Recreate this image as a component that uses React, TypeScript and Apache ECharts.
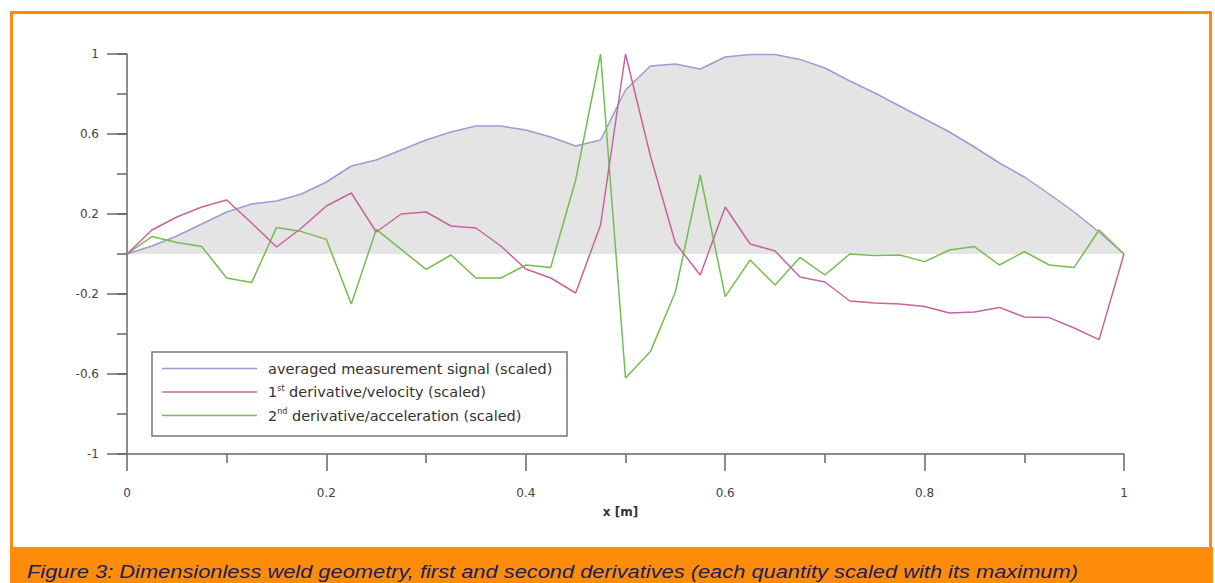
import React, { useEffect, useRef } from 'react';
import * as echarts from 'echarts';

// Data
const xPositions = [
  0, 0.025, 0.05, 0.075, 0.1, 0.125, 0.15, 0.175, 0.2, 0.225,
  0.25, 0.275, 0.3, 0.325, 0.35, 0.375, 0.4, 0.425, 0.45, 0.475,
  0.5, 0.525, 0.55, 0.575, 0.6, 0.625, 0.65, 0.675, 0.7, 0.725,
  0.75, 0.775, 0.8, 0.825, 0.85, 0.875, 0.9, 0.925, 0.95, 0.975, 1.0,
];

const signal = [
  0, 0.04, 0.09, 0.15, 0.21, 0.25, 0.265, 0.3, 0.36, 0.44,
  0.47, 0.52, 0.57, 0.61, 0.64, 0.64, 0.62, 0.585, 0.54, 0.57,
  0.82, 0.94, 0.95, 0.925, 0.985, 0.998, 0.998, 0.973, 0.93, 0.865,
  0.805, 0.74, 0.675, 0.61, 0.535, 0.455, 0.385, 0.3, 0.21, 0.11, 0,
];

const velocity = [
  0, 0.12, 0.185, 0.235, 0.27, 0.155, 0.035, 0.13, 0.24, 0.305,
  0.11, 0.2, 0.21, 0.14, 0.13, 0.04, -0.075, -0.12, -0.195, 0.145,
  1.0, 0.49, 0.055, -0.105, 0.235, 0.05, 0.015, -0.115, -0.14, -0.235,
  -0.245, -0.25, -0.262, -0.295, -0.29, -0.267, -0.315, -0.318, -0.37, -0.428, 0,
];

const acceleration = [
  0, 0.087, 0.057, 0.037, -0.12, -0.143, 0.133, 0.112, 0.073, -0.25,
  0.123, 0.023, -0.077, -0.005, -0.12, -0.12, -0.055, -0.067, 0.37, 1.0,
  -0.62, -0.488, -0.19, 0.395, -0.213, -0.03, -0.155, -0.017, -0.105, 0,
  -0.008, -0.005, -0.038, 0.02, 0.037, -0.055, 0.012, -0.055, -0.067, 0.12, 0,
];

const seriesNames = [
  'averaged measurement signal (scaled)',
  '1st derivative/velocity (scaled)',
  '2nd derivative/acceleration (scaled)',
];

const xAxisName = 'x [m]';
const caption =
  'Figure 3: Dimensionless weld geometry, first and second derivatives (each quantity scaled with its maximum)';

const FONT = '"Liberation Sans", Arial, Helvetica, sans-serif';
const WIDE = '"DejaVu Sans", "Liberation Sans", Arial, sans-serif';
const ORANGE = '#fd8c0b';

function pairs(ys: number[]) {
  return ys.map((y, i) => [xPositions[i], y]);
}

export default function App() {
  const ref = useRef<HTMLDivElement>(null);

  useEffect(() => {
    if (!ref.current) return;
    const chart = echarts.init(ref.current, undefined, { renderer: 'svg' });
    const fmt = (v: number) => String(parseFloat(v.toFixed(2)));

    chart.setOption({
      animation: false,
      backgroundColor: '#ffffff',
      grid: { left: 127, right: 91, top: 54, bottom: 129, containLabel: false },
      xAxis: {
        type: 'value',
        min: 0,
        max: 1,
        interval: 0.2,
        name: xAxisName,
        nameLocation: 'middle',
        nameGap: 52,
        nameTextStyle: {
          fontFamily: WIDE,
          fontSize: 12,
          fontWeight: 'bold',
          color: '#333',
          padding: [0, 10, 0, 0],
        },
        axisLine: { show: true, onZero: false, lineStyle: { color: '#666', width: 1.5 } },
        axisTick: { show: true, length: 17, lineStyle: { color: '#666', width: 1.5 } },
        minorTick: { show: true, splitNumber: 2, length: 9, lineStyle: { color: '#666', width: 1.5 } },
        axisLabel: { margin: 33, fontFamily: WIDE, fontSize: 12, color: '#444', formatter: (v: number) => fmt(v) },
        splitLine: { show: false },
        minorSplitLine: { show: false },
      },
      yAxis: [
        {
          type: 'value',
          min: -1,
          max: 1,
          interval: 0.2,
          position: 'left',
          axisLine: { show: true, onZero: false, lineStyle: { color: '#666', width: 1.5 } },
          axisTick: { show: true, length: 10, lineStyle: { color: '#666', width: 1.5 } },
          axisLabel: { show: false },
          splitLine: { show: false },
        },
        {
          // label/major-tick overlay: shifted by +1 so ticks fall on -1, -0.6, ..., 1
          type: 'value',
          min: 0,
          max: 2,
          interval: 0.4,
          position: 'left',
          offset: 0,
          axisLine: { show: false },
          axisTick: { show: true, length: 20, lineStyle: { color: '#666', width: 1.5 } },
          axisLabel: {
            margin: 28,
            fontFamily: WIDE,
            fontSize: 12,
            color: '#444',
            formatter: (v: number) => fmt(v - 1),
          },
          splitLine: { show: false },
        },
      ],
      legend: {
        orient: 'vertical',
        left: 162,
        top: 361,
        padding: 0,
        icon: 'rect',
        itemWidth: 95,
        itemHeight: 1.5,
        itemGap: 8,
        selectedMode: false,
        data: seriesNames,
        formatter: (name: string) => {
          const m = name.match(/^(\d)(st|nd|rd|th)(.*)$/);
          if (m) return `{n|${m[1]}}{s|${m[2]}}{n|${m[3]}}`;
          return `{n|${name}}`;
        },
        textStyle: {
          padding: [0, 0, 0, 6],
          rich: {
            n: { fontFamily: WIDE, fontSize: 14.5, lineHeight: 16, color: '#333' },
            s: { fontFamily: WIDE, fontSize: 8, lineHeight: 10, color: '#333', verticalAlign: 'top' },
          },
        },
      },
      graphic: [
        {
          type: 'rect',
          z: 0,
          shape: { x: 152, y: 352, width: 415, height: 84 },
          style: { fill: 'none', stroke: '#777', lineWidth: 1.5 },
        },
        {
          type: 'rect',
          z: 0,
          shape: { x: 11.5, y: 12.5, width: 1199, height: 575 },
          style: { fill: 'none', stroke: ORANGE, lineWidth: 3 },
        },
        {
          type: 'rect',
          z: 0,
          shape: { x: 10, y: 547, width: 1203, height: 36 },
          style: { fill: ORANGE },
        },
        {
          type: 'text',
          z: 1,
          x: 27,
          y: 571,
          scaleX: 1.15,
          style: {
            text: caption,
            fontFamily: FONT,
            fontSize: 19,
            fontStyle: 'italic',
            fill: '#1b1d63',
            verticalAlign: 'middle',
            align: 'left',
          },
        },
      ],
      series: [
        {
          name: seriesNames[0],
          type: 'line',
          yAxisIndex: 0,
          data: pairs(signal),
          showSymbol: false,
          symbol: 'none',
          lineStyle: { color: '#9c9cd2', width: 1.5 },
          itemStyle: { color: '#9c9cd2' },
          areaStyle: { color: '#e4e4e4', opacity: 1, origin: 0 },
          z: 1,
        },
        {
          name: seriesNames[1],
          type: 'line',
          yAxisIndex: 0,
          data: pairs(velocity),
          showSymbol: false,
          symbol: 'none',
          lineStyle: { color: '#c6649e', width: 1.5 },
          itemStyle: { color: '#c6649e' },
          z: 3,
        },
        {
          name: seriesNames[2],
          type: 'line',
          yAxisIndex: 0,
          data: pairs(acceleration),
          showSymbol: false,
          symbol: 'none',
          lineStyle: { color: '#74bd50', width: 1.5 },
          itemStyle: { color: '#74bd50' },
          z: 2,
        },
      ],
    });

    return () => {
      chart.dispose();
    };
  }, []);

  return (
    <div
      ref={ref}
      style={{ position: 'absolute', left: 0, top: 0, width: 1215, height: 583 }}
    />
  );
}
